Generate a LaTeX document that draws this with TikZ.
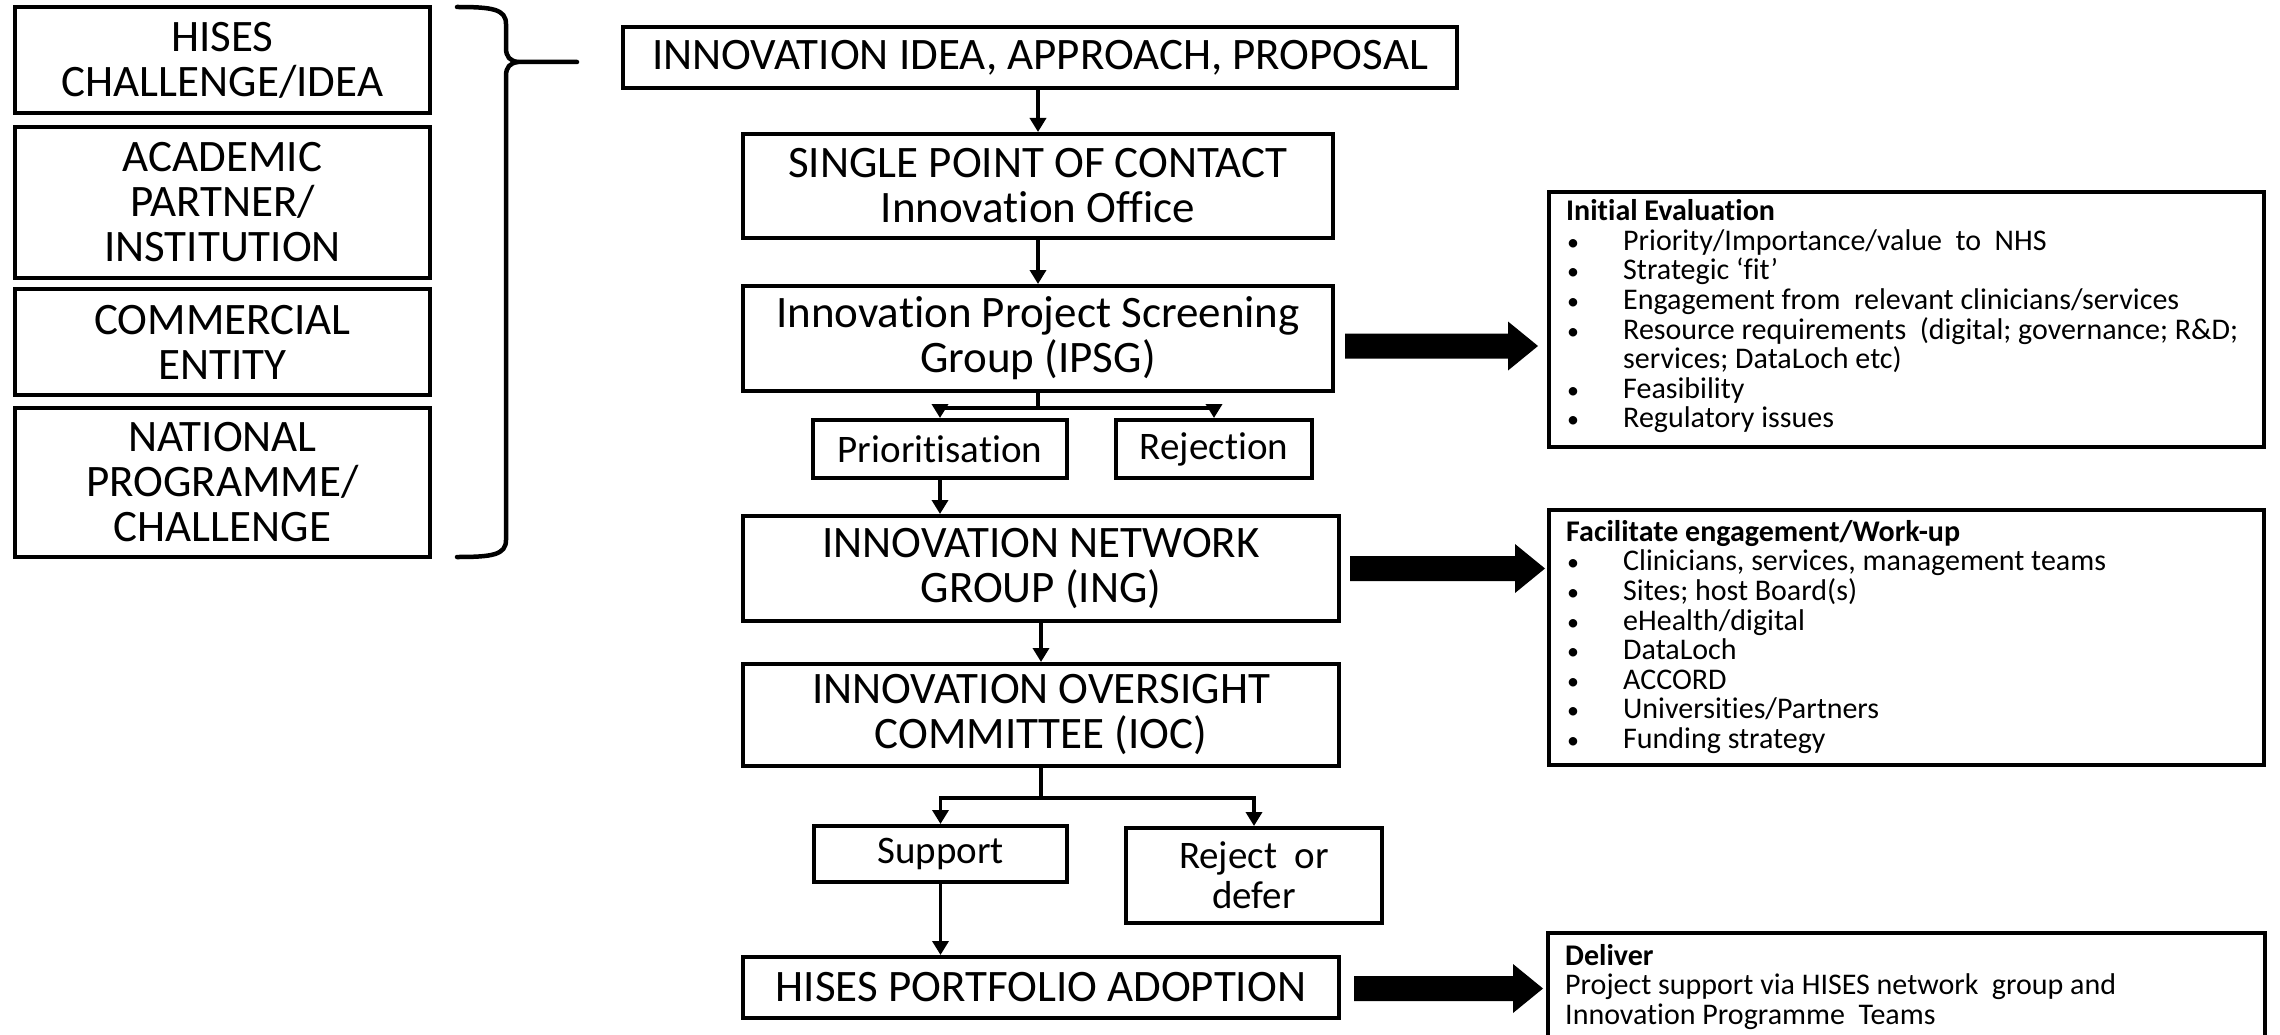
\documentclass[tikz,border=0pt]{standalone}
\usepackage{fontspec}
\setmainfont{Carlito}[Ligatures=CommonOff]
\usetikzlibrary{arrows.meta,calc}
\newcommand\bul{\makebox[57pt][l]{\hspace*{1pt}{\fontsize{24}{24}\selectfont\textbullet}}}
\newcommand\fatarrow[2]{%
  \fill let \p1=(#1), \p2=(#2) in
  (\x1,\y1+12.5pt) -- (\x2-30pt,\y1+12.5pt) -- (\x2-30pt,\y1+24.5pt) -- (\x2,\y1)
  -- (\x2-30pt,\y1-24.5pt) -- (\x2-30pt,\y1-12.5pt) -- (\x1,\y1-12.5pt) -- cycle;}
\begin{document}
\begin{tikzpicture}[x=1pt,y=-1pt,
  box/.style={draw, line width=4pt, inner sep=0pt, align=center},
  bigtxt/.style={font=\fontsize{45}{45}\selectfont},
  midtxt/.style={font=\fontsize{39}{40}\selectfont},
  arr/.style={line width=3.8pt, line join=miter, -{Triangle[length=14pt,width=16pt]}},
  brace/.style={line width=4.5pt, line cap=round, line join=round},
  listtxt/.style={font=\fontsize{30}{29.6}\selectfont, align=left, inner sep=0pt, anchor=north west}
]
\useasboundingbox (0,0) rectangle (2280,1035);
\clip (0,0) rectangle (2280,1035);
\fill[white] (0,0) rectangle (2280,1035);

% sources
\node[box,bigtxt,minimum width=415pt,minimum height=106pt] (src1) at (222.5,60) {HISES\\CHALLENGE/IDEA};
\node[box,bigtxt,minimum width=415pt,minimum height=151pt] (src2) at (222.5,202.5) {ACADEMIC\\PARTNER/\\INSTITUTION};
\node[box,bigtxt,minimum width=415pt,minimum height=106pt] (src3) at (222.5,342) {COMMERCIAL\\ENTITY};
\node[box,bigtxt,minimum width=415pt,minimum height=149pt] (src4) at (222.5,482.5) {NATIONAL\\PROGRAMME/\\CHALLENGE};

% brace
\draw[brace] (457,7) .. controls (492,7) and (506,9) .. (506,24) -- (506,48)
  .. controls (506,57) and (510,61) .. (518,62) coordinate (bracemid) -- (577,62) coordinate (bracetip);
\draw[brace] (bracemid) .. controls (510,63) and (506,67) .. (506,76) -- (506,540)
  .. controls (506,555) and (492,557) .. (457,557);

% main column
\node[box,bigtxt,minimum width=834pt,minimum height=61pt] (idea) at (1040,57.5) {INNOVATION IDEA, APPROACH, PROPOSAL};
\node[box,bigtxt,minimum width=590pt,minimum height=104pt] (spoc) at (1038,186) {SINGLE POINT OF CONTACT\\Innovation Office};
\node[box,bigtxt,minimum width=590pt,minimum height=105pt] (ipsg) at (1038,338.5) {Innovation Project Screening\\Group (IPSG)};
\node[box,midtxt,minimum width=254pt,minimum height=58pt] (prior) at (940,449) {Prioritisation};
\node[box,midtxt,minimum width=196pt,minimum height=58pt] (reject) at (1214,449) {Rejection};
\node[box,bigtxt,minimum width=596pt,minimum height=105pt] (ing) at (1041,568.5) {INNOVATION NETWORK\\GROUP (ING)};
\node[box,bigtxt,minimum width=596pt,minimum height=102pt] (ioc) at (1041,715) {INNOVATION OVERSIGHT\\COMMITTEE (IOC)};
\node[box,midtxt,minimum width=253pt,minimum height=56pt] (support) at (940.5,854) {Support};
\node[box,midtxt,minimum width=256pt,minimum height=95pt] (rejdef) at (1254,875.5) {Reject\ \ or\\defer};
\node[box,bigtxt,minimum width=596pt,minimum height=61pt] (portfolio) at (1041,987.5) {HISES PORTFOLIO ADOPTION};

% right boxes
\node[box,minimum width=715pt,minimum height=255pt] (eval) at (1906.5,319.5) {};
\node[listtxt] (evaltxt) at ([xshift=19pt,yshift=-9.5pt]eval.north west) {%
\textbf{Initial Evaluation}\\
\bul Priority/Importance/value\ \ to\ \ NHS\\
\bul Strategic ‘fit’\\
\bul Engagement from\ \ relevant clinicians/services\\
\bul Resource requirements\ \ (digital; governance; R\&D;\\
\hspace*{57pt}services; DataLoch etc)\\
\bul Feasibility\\
\bul Regulatory issues};

\node[box,minimum width=715pt,minimum height=255pt] (fac) at (1906.5,637.5) {};
\node[listtxt] (factxt) at ([xshift=19pt,yshift=-12pt]fac.north west) {%
\textbf{Facilitate engagement/Work-up}\\
\bul Clinicians, services, management teams\\
\bul Sites; host Board(s)\\
\bul eHealth/digital\\
\bul DataLoch\\
\bul ACCORD\\
\bul Universities/Partners\\
\bul Funding strategy};

\node[box,minimum width=717pt,minimum height=127pt] (deliver) at (1906.5,996.5) {};
\node[listtxt] (delivertxt) at ([xshift=19pt,yshift=-13pt]deliver.north west) {%
\textbf{Deliver}\\
Project support via HISES network\ \ group and\\
Innovation Programme\ \ Teams};

% thin connectors
\draw[arr] (idea.south -| spoc.north) -- (spoc.north);
\draw[arr] (spoc.south) -- (ipsg.north);
\coordinate (br1) at ($(ipsg.south)+(0,15)$);
\draw[arr] (ipsg.south) -- (br1) -| (prior.north);
\draw[arr] (br1) -| (reject.north);
\draw[arr] (prior.south) -- (prior.south |- ing.north);
\draw[arr] (ing.south) -- (ioc.north);
\coordinate (br2) at ($(ioc.south)+(0,30)$);
\draw[arr] (ioc.south) -- (br2) -| (support.north);
\draw[arr] (br2) -| (rejdef.north);
\draw[arr] (support.south) -- (support.south |- portfolio.north);

% fat arrows
\coordinate (a1s) at ([xshift=10pt,yshift=-7.5pt]ipsg.east);
\coordinate (a1e) at ($(eval.west |- a1s)+(-9,0)$);
\fatarrow{a1s}{a1e}
\coordinate (a2s) at ([xshift=9pt]ing.east);
\coordinate (a2e) at ($(fac.west |- a2s)+(-2,0)$);
\fatarrow{a2s}{a2e}
\coordinate (a3s) at ([xshift=13pt,yshift=-1pt]portfolio.east);
\coordinate (a3e) at ($(deliver.west |- a3s)+(-3,0)$);
\fatarrow{a3s}{a3e}
\end{tikzpicture}
\end{document}
